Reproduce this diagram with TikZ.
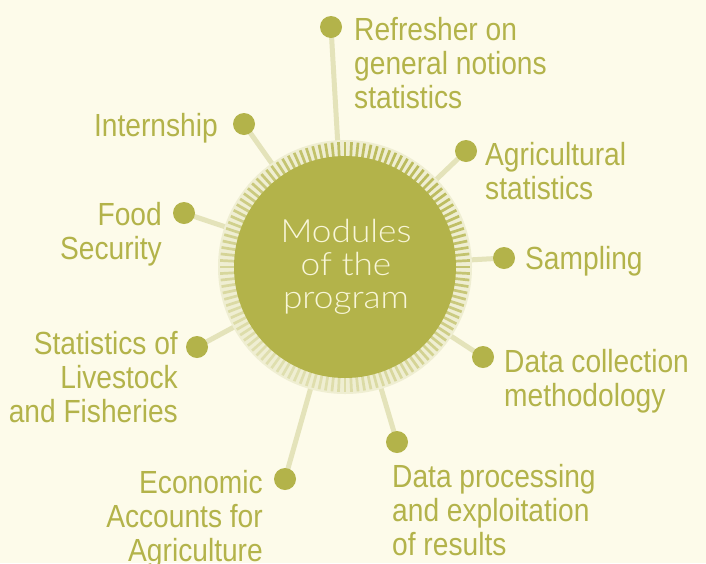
\documentclass[tikz,border=0pt]{standalone}
\usepackage{fontspec}
\setmainfont{Liberation Sans}[FakeStretch=0.88]
\newfontfamily\lightfont{Lato Light}[FakeStretch=1.1]
\usetikzlibrary{backgrounds}
\definecolor{bg}{HTML}{FDFBEA}
\definecolor{olive}{HTML}{B3B34A}
\definecolor{spokecol}{HTML}{E4E3BA}
\definecolor{band}{HTML}{EFEED2}
\definecolor{ctext}{HTML}{F8F6D8}
\begin{document}
\begin{tikzpicture}[x=1pt,y=-1pt,
  dot/.style={circle,fill=olive,minimum size=22pt,inner sep=0pt},
  spokeline/.style={draw=spokecol,line width=5pt},
  lab/.style={text=olive,font=\fontsize{32}{34}\selectfont,inner sep=0pt},
  labl/.style={lab,align=left,anchor=base west},
  labr/.style={lab,align=right,anchor=base east}]
\useasboundingbox (0,0) rectangle (706,563);
\coordinate (c) at (345,267);
% ring
\fill[band] (c) circle[radius=127];
\foreach \a in {0,3,...,357}{
  \pgfmathsetmacro\m{56+30*cos(\a-300)}
  \draw[olive!\m!band, line width=2.7pt] ([shift={(\a:110)}]c) -- ([shift={(\a:125)}]c);
}
\node[circle,fill=olive,minimum size=222pt,inner sep=0pt] (hub) at (c) {};
\node[text=ctext,font=\lightfont\fontsize{32}{33}\selectfont,align=center,anchor=base,inner sep=0pt] (hubtext) at (346,308) {Modules\\of the\\program};
% dots
\node[dot] (d1) at (331,27) {};
\node[dot] (d2) at (466,151) {};
\node[dot] (d3) at (504,258) {};
\node[dot] (d4) at (483,357) {};
\node[dot] (d5) at (397,442) {};
\node[dot] (d6) at (285,479) {};
\node[dot] (d7) at (197,347) {};
\node[dot] (d8) at (184,213) {};
\node[dot] (d9) at (244,124) {};
% labels (base anchor = baseline of last line)
\node[labl] (l1) at (354,108) {Refresher on\\general notions\\statistics};
\node[labl] (l2) at (485,199) {Agricultural\\statistics};
\node[labl] (l3) at (525,269) {Sampling};
\node[labl] (l4) at (504,406) {Data collection\\methodology};
\node[labl] (l5) at (392,555) {Data processing\\and exploitation\\of results};
\node[labr] (l6) at (263,561) {Economic\\Accounts for\\Agriculture};
\node[labr] (l7) at (178,422) {Statistics of\\Livestock\\and Fisheries};
\node[labr] (l8) at (162,259) {Food\\Security};
\node[labr] (l9) at (218,136) {Internship};
\begin{pgfonlayer}{background}
  \fill[bg] (0,0) rectangle (706,563);
  \foreach \d in {d1,d2,d3,d4,d5,d6,d7,d8,d9}{
    \draw[spokeline] (hub.center) -- (\d.center);
  }
\end{pgfonlayer}
\end{tikzpicture}
\end{document}
